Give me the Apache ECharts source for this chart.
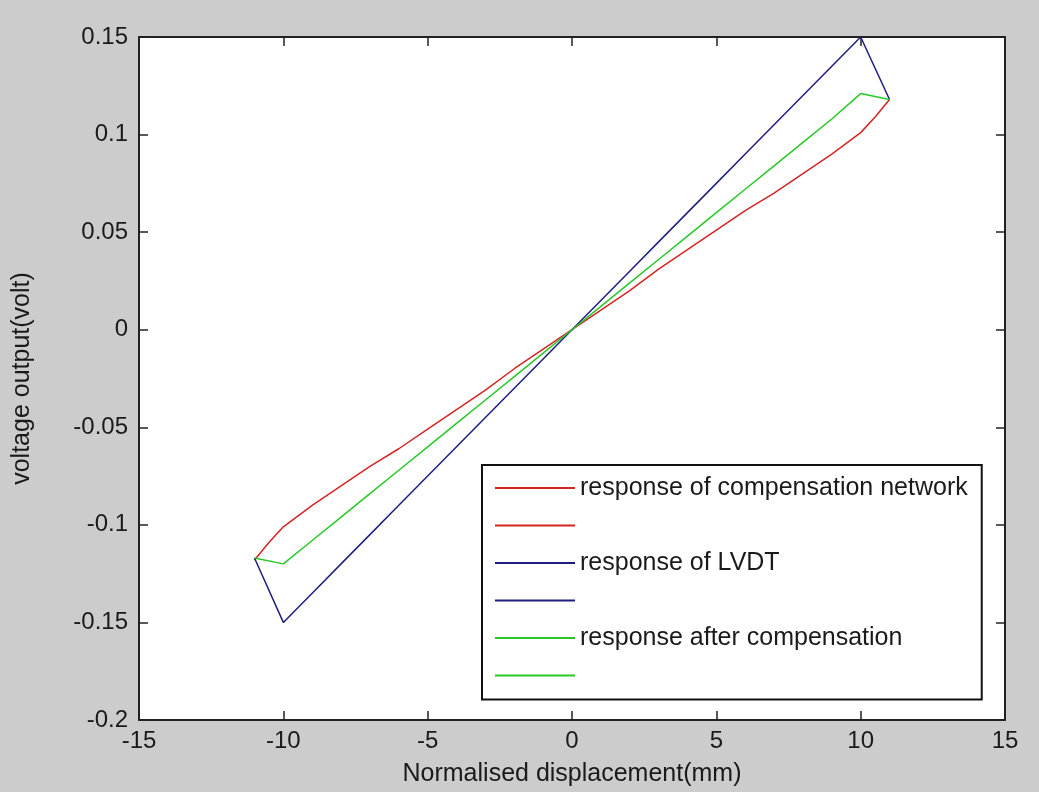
<!DOCTYPE html>
<html>
<head>
<meta charset="utf-8">
<script src="https://cdn.jsdelivr.net/npm/echarts@6/dist/echarts.min.js"></script>
<style>
html,body{margin:0;padding:0;background:#cccccc;}
#chart{width:1039px;height:792px;}
</style>
</head>
<body>
<div id="chart"></div>
<script>
// ---- data ----
var xTicks = { min: -15, max: 15, interval: 5 };
var yTicks = { min: -0.2, max: 0.15, interval: 0.05 };

var compX = [-11, -10.5, -10, -9, -8, -7, -6, -5, -4, -3, -2, -1, 0, 1, 2, 3, 4, 5, 6, 7, 8, 9, 10, 10.5, 11];
var compY = [-0.118, -0.109, -0.101, -0.090, -0.080, -0.070, -0.061, -0.051, -0.041, -0.031, -0.020, -0.010, 0, 0.010, 0.020, 0.031, 0.041, 0.051, 0.061, 0.070, 0.080, 0.090, 0.101, 0.109, 0.118];

var lvdtX = [-11, -10, -9, -8, -7, -6, -5, -4, -3, -2, -1, 0, 1, 2, 3, 4, 5, 6, 7, 8, 9, 10, 11];
var lvdtY = [-0.117, -0.150, -0.135, -0.120, -0.105, -0.090, -0.075, -0.060, -0.045, -0.030, -0.015, 0, 0.015, 0.030, 0.045, 0.060, 0.075, 0.090, 0.105, 0.120, 0.135, 0.150, 0.118];

var afterX = [-11, -10, -9, -8, -7, -6, -5, -4, -3, -2, -1, 0, 1, 2, 3, 4, 5, 6, 7, 8, 9, 10, 11];
var afterY = [-0.117, -0.120, -0.108, -0.096, -0.084, -0.072, -0.060, -0.048, -0.036, -0.024, -0.012, 0, 0.012, 0.024, 0.036, 0.048, 0.060, 0.072, 0.084, 0.096, 0.108, 0.121, 0.118];

var names = ['response of compensation network', ' ', 'response of LVDT', '  ', 'response after compensation', '   '];
var colors = ['#d42424', '#d42424', '#1e1e80', '#1e1e80', '#28c828', '#28c828'];

// ---- helpers ----
function half(xs, ys, neg) {
  var out = [];
  for (var i = 0; i < xs.length; i++) {
    if (neg ? xs[i] <= 0 : xs[i] >= 0) out.push([xs[i], ys[i]]);
  }
  return out;
}
var seriesData = [
  half(compX, compY, true), half(compX, compY, false),
  half(lvdtX, lvdtY, true), half(lvdtX, lvdtY, false),
  half(afterX, afterY, true), half(afterX, afterY, false)
];

var FONT = "'Liberation Sans', Arial, Helvetica, sans-serif";
var AX = '#222222';

function xAxisDef(pos, show) {
  return {
    type: 'value', position: pos, min: xTicks.min, max: xTicks.max, interval: xTicks.interval,
    axisLine: { show: true, onZero: false, lineStyle: { color: AX, width: 2 } },
    axisTick: { show: true, inside: true, length: 9, lineStyle: { color: AX, width: 1.5 } },
    splitLine: { show: false },
    axisLabel: { show: show, margin: 9, fontSize: 24, fontFamily: FONT, color: '#1a1a1a' },
    name: show ? 'Normalised displacement(mm)' : '',
    nameLocation: 'middle', nameGap: 42,
    nameTextStyle: { fontSize: 25, fontFamily: FONT, color: '#1a1a1a' }
  };
}
function yAxisDef(pos, show) {
  return {
    type: 'value', position: pos, min: yTicks.min, max: yTicks.max, interval: yTicks.interval,
    axisLine: { show: true, onZero: false, lineStyle: { color: AX, width: 2 } },
    axisTick: { show: true, inside: true, length: 9, lineStyle: { color: AX, width: 1.5 } },
    splitLine: { show: false },
    axisLabel: { show: show, margin: 11, fontSize: 24, fontFamily: FONT, color: '#1a1a1a',
      formatter: function (v) { return String(+v.toFixed(2)); } },
    name: show ? 'voltage output(volt)' : '',
    nameLocation: 'middle', nameGap: 104, nameRotate: 90,
    nameTextStyle: { fontSize: 25, fontFamily: FONT, color: '#1a1a1a' }
  };
}

var series = [];
for (var k = 0; k < 6; k++) {
  series.push({
    name: names[k], type: 'line', data: seriesData[k],
    xAxisIndex: 0, yAxisIndex: 0,
    showSymbol: false, symbol: 'none',
    itemStyle: { color: colors[k] },
    lineStyle: { color: colors[k], width: 1.5 }
  });
}

var chart = echarts.init(document.getElementById('chart'), null, { renderer: 'canvas' });
chart.setOption({
  animation: false,
  backgroundColor: '#cccccc',
  grid: { left: 139, right: 34, top: 37, bottom: 71, show: true, backgroundColor: '#ffffff', borderWidth: 0 },
  xAxis: [xAxisDef('bottom', true), xAxisDef('top', false)],
  yAxis: [yAxisDef('left', true), yAxisDef('right', false)],
  legend: {
    data: names,
    orient: 'vertical',
    left: 482, top: 465,
    padding: [8, 14, 9, 13],
    itemGap: 7.5,
    itemWidth: 80, itemHeight: 2,
    icon: 'rect',
    backgroundColor: '#ffffff',
    borderColor: '#111111', borderWidth: 2,
    selectedMode: false,
    textStyle: { fontSize: 25, lineHeight: 30, fontFamily: FONT, color: '#1a1a1a' },
    formatter: function (n) { return n.trim() === '' ? ' ' : n; }
  },
  series: series
});
</script>
</body>
</html>
